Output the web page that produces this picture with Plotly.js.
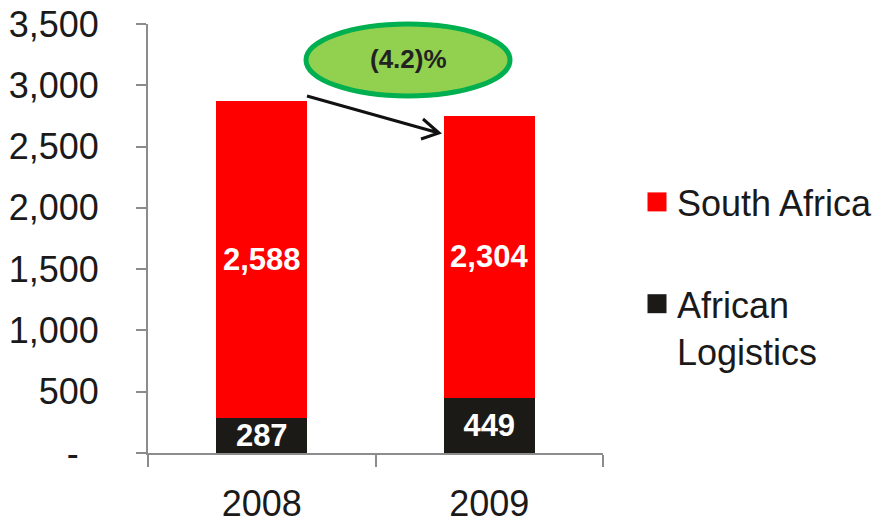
<!DOCTYPE html>
<html>
<head>
<meta charset="utf-8">
<script src="https://cdn.plot.ly/plotly-3.0.1.min.js"></script>
<style>html,body{margin:0;padding:0;background:#fff;}#chart{width:881px;height:525px;}</style>
</head>
<body>
<div id="chart"></div>
<script>
// ---- data ----
const categories = ["2008", "2009"];
const africanLogistics = [287, 449];
const southAfrica = [2588, 2304];
const seriesNames = ["African<br>Logistics", "South Africa"];
const yTickVals = [0, 500, 1000, 1500, 2000, 2500, 3000, 3500];
const yTickText = ["-\u00a0\u00a0", "500", "1,000", "1,500", "2,000", "2,500", "3,000", "3,500"];
const changeLabel = "(4.2)%";

const FONT = "Liberation Sans, Arial, sans-serif";
const AXIS_GRAY = "#8c8c8c";
const TXT = "#1a1a1a";

const traces = [
  {
    type: "bar", name: seriesNames[0], x: categories, y: africanLogistics,
    marker: {color: "#1c1a17", line: {width: 0}},
    width: 0.4, legendgroup: "al", legendrank: 2,
    text: africanLogistics, texttemplate: "%{y:,}", textposition: "inside",
    insidetextanchor: "middle", constraintext: "none",
    textfont: {family: FONT, size: 31, color: "#ffffff", weight: "bold"},
    hoverinfo: "skip"
  },
  {
    type: "bar", name: seriesNames[1], x: categories, y: southAfrica,
    marker: {color: "#ff0000", line: {width: 0}},
    width: 0.4, legendgroup: "sa", legendrank: 1,
    text: southAfrica, texttemplate: "%{y:,}", textposition: "inside",
    insidetextanchor: "middle", constraintext: "none",
    textfont: {family: FONT, size: 31, color: "#ffffff", weight: "bold"},
    hoverinfo: "skip"
  }
];

// pixel -> paper helpers (plot area: x 148..603, y 24..453)
const W = 881, H = 525;
const L = 148, R = 603, T = 24, B = 453;
const px = v => (v - L) / (R - L);
const py = v => (B - v) / (B - T);

const layout = {
  width: W, height: H,
  margin: {l: L, r: W - R, t: T, b: H - B, pad: 0, autoexpand: false},
  paper_bgcolor: "#ffffff", plot_bgcolor: "#ffffff",
  barmode: "stack",
  font: {family: FONT, color: TXT, size: 36},
  xaxis: {
    type: "category", range: [-0.5, 1.5],
    showline: true, linecolor: AXIS_GRAY, linewidth: 2,
    ticks: "outside", ticklen: 12, tickwidth: 2, tickcolor: AXIS_GRAY,
    tickson: "boundaries", showgrid: false, zeroline: false,
    tickfont: {family: FONT, size: 36, color: TXT},
    ticklabelstandoff: 18, automargin: false
  },
  yaxis: {
    range: [0, 3500], tickvals: yTickVals, ticktext: yTickText,
    showline: true, linecolor: AXIS_GRAY, linewidth: 2,
    ticks: "outside", ticklen: 10, tickwidth: 2, tickcolor: AXIS_GRAY,
    showgrid: false, zeroline: false,
    tickfont: {family: FONT, size: 36, color: TXT},
    ticklabelstandoff: 30, automargin: false
  },
  showlegend: true,
  legend: {
    xref: "container", yref: "container",
    x: 637 / W, xanchor: "left", y: 1 - 172 / H, yanchor: "top",
    traceorder: "grouped", tracegroupgap: 52, valign: "top",
    font: {family: FONT, size: 36, color: TXT},
    bgcolor: "rgba(0,0,0,0)", borderwidth: 0
  },
  shapes: [
    {
      type: "circle", xref: "paper", yref: "paper",
      x0: px(306), x1: px(510), y0: py(96), y1: py(24),
      fillcolor: "#92d050", line: {color: "#00b050", width: 5}, layer: "above"
    },
    {
      type: "path", xref: "paper", yref: "paper",
      path: "M" + px(307) + "," + py(96) + " L" + px(439) + "," + py(133) +
            " M" + px(423) + "," + py(119) + " L" + px(439) + "," + py(133) + " L" + px(421) + "," + py(139),
      line: {color: "#111111", width: 3}, layer: "above"
    }
  ],
  annotations: [
    {
      xref: "paper", yref: "paper", x: px(408), y: py(59),
      text: "<b>" + changeLabel + "</b>", showarrow: false,
      font: {family: FONT, size: 26, color: "#222222"},
      xanchor: "center", yanchor: "middle"
    }
  ]
};

Plotly.newPlot("chart", traces, layout, {staticPlot: true, displayModeBar: false}).then(gd => {
  // enlarge the legend swatches to match the reference (19px squares)
  gd.querySelectorAll(".legend .legendpoints path").forEach(p => {
    p.setAttribute("d", "M9.5,9.5H-9.5V-9.5H9.5Z");
  });
});
</script>
</body>
</html>
